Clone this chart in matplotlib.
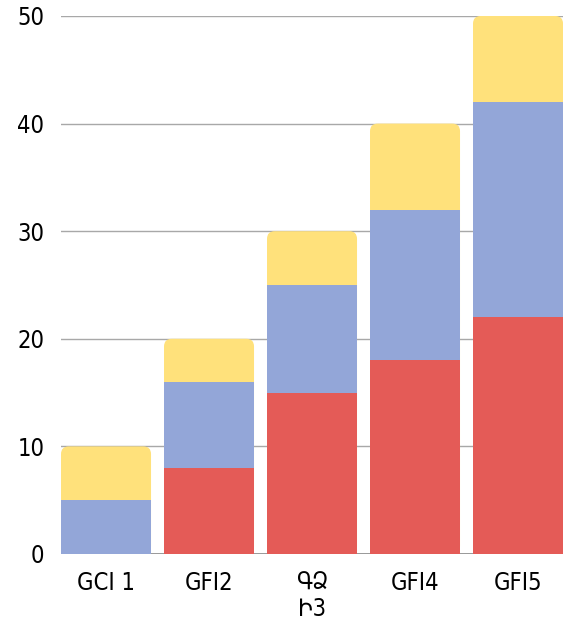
import matplotlib
matplotlib.use('Agg')
import matplotlib.pyplot as plt
from matplotlib.patches import FancyBboxPatch
import numpy as np

# %%
categories = ['GCI 1', 'GFI2', 'ԳՁ\nԻ3', 'GFI4', 'GFI5']
red_vals = [0, 8, 15, 18, 22]
blue_vals = [5, 8, 10, 14, 20]
yellow_vals = [5, 4, 5, 8, 8]
y_ticks = [0, 10, 20, 30, 40, 50]

red, blue, yellow = '#e45b57', '#93a6d8', '#ffe17b'

plt.rcParams['font.family'] = ['DejaVu Sans']
plt.rcParams['font.stretch'] = 'condensed'

# %%
fig = plt.figure(figsize=(5.67, 6.24), dpi=100)
ax = fig.add_axes([0.1076, 0.1122, 0.8854, 0.8622])

x = np.arange(len(categories))
width = 0.874
red_vals = np.array(red_vals)
blue_vals = np.array(blue_vals)
yellow_vals = np.array(yellow_vals)
totals = red_vals + blue_vals + yellow_vals

ax.set_xlim(-width / 2, len(categories) - 1 + width / 2)
ax.set_ylim(0, 50)

# grid behind bars
for t in y_ticks[1:]:
    ax.axhline(t, color='#a8a8a8', lw=1, zorder=0)
ax.axhline(0, color='#888888', lw=1.2, zorder=0)

# aspect between data units (y per pixel / x per pixel)
bbox = ax.get_window_extent()
xr = ax.get_xlim()[1] - ax.get_xlim()[0]
aspect = (50 / bbox.height) / (xr / bbox.width)

# yellow top with rounded corners, drawn full height then covered below
for xi, tot in zip(x, totals):
    p = FancyBboxPatch((xi - width / 2, 0), width, tot,
                       boxstyle='round,pad=0,rounding_size=0.075',
                       mutation_aspect=aspect, fc=yellow, ec='none', zorder=1)
    ax.add_patch(p)

ax.bar(x, blue_vals, width, bottom=red_vals, color=blue, zorder=2)
ax.bar(x, red_vals, width, color=red, zorder=3)

ax.set_yticks(y_ticks)
ax.set_yticklabels([str(t) for t in y_ticks], fontsize=17)
ax.set_xticks(x)
ax.set_xticklabels(categories, fontsize=17, linespacing=1.1, va='top')
ax.tick_params(length=0)
ax.tick_params(axis='x', pad=12)
ax.tick_params(axis='y', pad=12)
for s in ax.spines.values():
    s.set_visible(False)

plt.savefig('out.png', dpi=100)
